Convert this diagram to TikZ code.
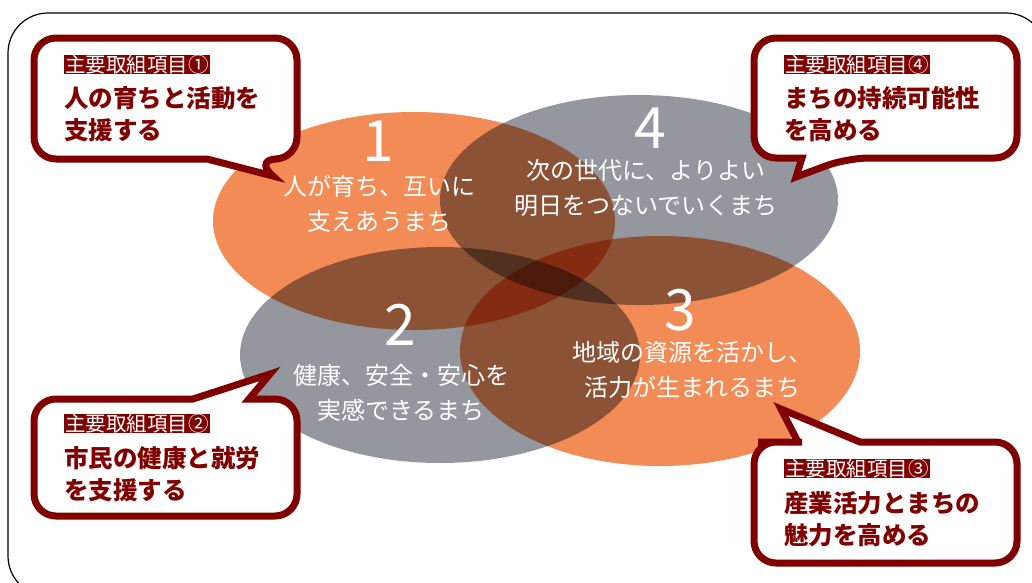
\documentclass[tikz,border=0pt]{standalone}
\usepackage{fontspec}
\newfontfamily\jp{Noto Sans CJK JP}
\definecolor{orng}{RGB}{242,139,86}
\definecolor{gry}{RGB}{148,151,158}
\definecolor{dred}{RGB}{128,0,0}
\tikzset{
  balloon/.style={draw=dred, line width=7pt, fill=white, rounded corners=22pt},
  tag/.style={fill=dred, text=white, inner xsep=1pt, inner ysep=0pt, anchor=north west, font=\jp\fontsize{20.5}{20.5}\selectfont},
  goal/.style={text=dred, inner sep=0pt, anchor=north west, align=left, font=\jp\bfseries\fontsize{24.5}{32}\selectfont},
  num/.style={text=white, inner sep=0pt, font=\jp\fontsize{57}{57}\selectfont},
  vision/.style={text=white, inner sep=0pt, align=center, font=\jp\fontsize{24}{35}\selectfont}
}

\begin{document}
\begin{tikzpicture}[x=1pt, y=-1pt]
        \useasboundingbox (0,0) rectangle (1032,582);
        \fill[white] (0,0) rectangle (1032,582);
        \draw[line width=1.2pt, rounded corners=40pt] (8,13) rectangle (1046,596);
        % overlapping areas
        \begin{scope}[blend mode=multiply]
          \fill[orng] (414,221) ellipse [x radius=201, y radius=109];
          \fill[gry] (639,200) ellipse [x radius=199, y radius=105];
          \fill[gry] (440,355) ellipse [x radius=200, y radius=108];
          \fill[orng] (660,351) ellipse [x radius=200, y radius=115];
        \end{scope}
        \node[num] (N1) at (378,141) {1};
        \node[num] (N4) at (650,128) {4};
        \node[num] (N2) at (400,325) {2};
        \node[num] (N3) at (680,310) {3};
        \node[vision] (V1) at (379,204) {人が育ち、互いに\\支えあうまち};
        \node[vision] (V4) at (646,188) {次の世代に、よりよい\\明日をつないでいくまち};
        \node[vision] (V2) at (401,393) {健康、安全・安心を\\実感できるまち};
        \node[vision] (V3) at (692,370) {地域の資源を活かし、\\活力が生まれるまち};
        \draw[balloon] (120,38) -- (297,38) -- (297,159) -- (255,159) [sharp corners] -- (273,176) -- (207,159) -- (150,159) [rounded corners=22pt] -- (34,159) -- (34,38) -- cycle;
        \draw[balloon] (880,38) -- (1017,38) -- (1017,158) -- (847,158) [sharp corners] -- (796,177) -- (802,158) -- (790,158) [rounded corners=22pt] -- (754,158) -- (754,38) -- cycle;
        \draw[balloon] (34,460) -- (34,399) -- (150,399) [sharp corners] -- (193,399) -- (270,374) -- (249,399) -- (260,399) [rounded corners=22pt] -- (297,399) -- (297,516) -- (34,516) -- cycle;
        \draw[balloon] (754,500) -- (754,442) -- (780,442) [sharp corners] -- (798,442) -- (781,409) -- (860,442) -- (900,442) [rounded corners=22pt] -- (1017,442) -- (1017,563) -- (754,563) -- cycle;
        \node[tag] (T1) at (64,55) {主要取組項目①};
        \node[goal] (G1) at (64,86) {人の育ちと活動を\\支援する};
        \node[tag] (T4) at (784,55) {主要取組項目④};
        \node[goal] (G4) at (784,86) {まちの持続可能性\\を高める};
        \node[tag] (T2) at (64,414) {主要取組項目②};
        \node[goal] (G2) at (64,446) {市民の健康と就労\\を支援する};
        \node[tag] (T3) at (784,459) {主要取組項目③};
        \node[goal] (G3) at (784,491) {産業活力とまちの\\魅力を高める};
      \end{tikzpicture}
\end{document}
